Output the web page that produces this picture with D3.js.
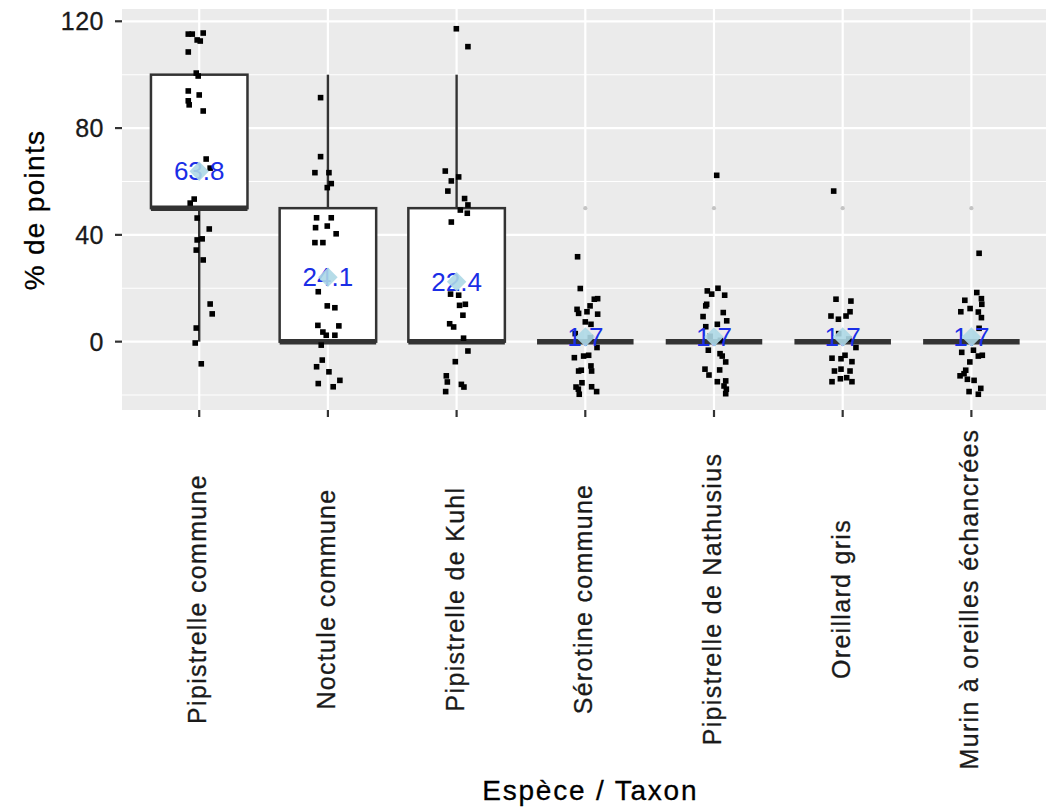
<!DOCTYPE html>
<html>
<head>
<meta charset="utf-8">
<script src="https://cdn.jsdelivr.net/npm/d3@7/dist/d3.min.js"></script>
<style>
  html, body { margin: 0; padding: 0; background: #ffffff; }
  svg { display: block; }
  text { font-family: "Liberation Sans", Arial, Helvetica, sans-serif; }
</style>
</head>
<body>
<svg id="chart" width="1046" height="812"></svg>
<script>
// ---------------- data ----------------
const categories = [
  "Pipistrelle commune", "Noctule commune", "Pipistrelle de Kuhl",
  "Sérotine commune", "Pipistrelle de Nathusius", "Oreillard gris",
  "Murin à oreilles échancrées"
];
const q1Values        = [50, 0, 0, 0, 0, 0, 0];
const medianValues    = [50, 0, 0, 0, 0, 0, 0];
const q3Values        = [100, 50, 50, 0, 0, 0, 0];
const whiskerLow      = [0, 0, 0, 0, 0, 0, 0];
const whiskerHigh     = [100, 100, 100, 0, 0, 0, 0];
const outlierValues   = [[], [], [], [50], [50], [50], [50]];
const meanValues      = [63.8, 24.1, 22.4, 1.7, 1.7, 1.7, 1.7];
const meanLabels      = ["63.8", "24.1", "22.4", "1.7", "1.7", "1.7", "1.7"];

// jittered observations (y as displayed) and their horizontal jitter (fraction of category step)
const pointValues = [
  [115.2,115.2,115.6,113.0,112.6,108.5,100.6,99.5,93.9,92.4,90.2,88.7,86.4,68.4,65.0,53.4,51.9,46.3,42.2,38.5,38.1,34.3,30.6,14.1,10.4,5.1,-0.5,-8.3],
  [91.4,69.3,63.3,63.3,59.2,57.7,46.4,46.4,42.7,43.3,40.4,37.1,37.1,18.7,13.4,12.7,6.1,5.9,3.6,2.4,2.4,-1.3,-6.9,-9.4,-11.3,-15.7,-16.9,-14.5],
  [117.2,110.5,63.9,61.7,60.2,56.4,53.6,51.2,49.3,48.1,44.8,17.8,17.4,13.6,14.0,9.9,6.7,5.5,1.3,-3.5,-7.5,-12.8,-15.1,-18.7,-16.0,-17.0],
  [31.8,19.9,15.9,16.1,13.4,12.1,10.6,11.2,10.3,7.4,6.5,3.0,1.5,-2.2,-5.4,-5.1,-6.0,-9.1,-11.0,-11.0,-10.7,-15.4,-17.0,-17.8,-16.9,-18.7,-19.7],
  [62.3,19.0,17.8,20.0,17.4,13.4,14.0,9.4,10.9,7.8,6.5,5.6,2.0,0.5,-3.2,-4.5,-5.4,-7.6,-10.3,-12.5,-10.6,-15.0,-14.7,-16.6,-17.8,-19.5],
  [56.4,15.9,15.2,9.6,8.4,9.6,11.2,3.0,1.0,-2.2,-5.1,-6.4,-6.2,-7.5,-11.0,-10.3,-11.0,-15.0,-13.9,-13.5,-15.0],
  [33.1,18.4,16.1,14.0,15.5,12.4,11.2,11.1,9.0,5.0,-4.0,-3.2,-5.4,-5.1,-7.6,-10.7,-12.0,-12.8,-14.1,-14.5,-18.7,-17.5,-19.7]
];
const pointJitter = [
  [-0.085,-0.054,0.031,-0.016,0.008,-0.085,-0.023,-0.008,-0.085,0,-0.085,-0.078,0.031,0.054,0.085,-0.039,-0.070,-0.016,0.078,0.023,-0.016,-0.023,0.031,0.085,0.101,-0.023,-0.031,0.016],
  [-0.057,-0.057,-0.101,0.008,0.026,-0.005,-0.088,0.026,-0.096,-0.005,0.064,-0.101,-0.039,-0.075,-0.005,0.054,-0.078,0.085,-0.039,-0.013,0.054,-0.052,-0.044,-0.088,0.008,-0.075,0.041,0.093],
  [-0.002,0.088,-0.088,0.016,-0.041,-0.068,0.062,0.088,0.029,0.083,-0.041,-0.047,0.016,0.023,0.068,0.049,-0.054,-0.023,0.054,0.088,-0.010,-0.080,-0.072,-0.085,0.037,0.057],
  [-0.060,-0.039,0.070,0.096,0.037,-0.064,-0.052,0.013,0.096,0,0.044,-0.078,0.039,0.091,-0.013,0.026,-0.085,0.044,0.049,-0.052,-0.031,-0.026,-0.072,-0.054,0.049,0.088,-0.047],
  [0.021,-0.052,-0.018,0.031,0.083,-0.064,-0.057,-0.085,0.072,0.099,0.026,-0.064,-0.030,0.050,-0.044,0.047,0.064,0.091,-0.070,-0.039,0.044,0.026,0.091,0.078,0.096,0.091],
  [-0.070,-0.052,0.064,-0.091,-0.033,0.026,0.057,-0.031,0.047,0.103,0.018,-0.013,-0.083,0.072,-0.064,-0.013,0.057,-0.083,-0.018,0.031,0.072],
  [0.060,0.042,0.078,0.081,-0.051,-0.010,-0.082,0.054,0.078,0.060,-0.075,0.016,0.054,0.085,-0.012,-0.044,-0.057,-0.088,-0.031,0.021,-0.018,0.073,0.054]
];
const yTicks = [0, 40, 80, 120];
const yMinorTicks = [-20, 20, 60, 100];
const xTitle = "Espèce / Taxon";
const yTitle = "% de points";

// ---------------- layout ----------------
const panel = { left: 122, right: 1048.6, top: 9, bottom: 410 };
const svg = d3.select("#chart");

const x = d3.scaleLinear().domain([0.4, categories.length + 0.6]).range([panel.left, panel.right]);
const y = d3.scaleLinear().domain([-25.6, 124.6]).range([panel.bottom, panel.top]);
const step = x(2) - x(1);
const boxW = step * 0.75;
const ink = "#1a1a1a";

// panel background
svg.append("rect")
  .attr("x", panel.left).attr("y", panel.top)
  .attr("width", panel.right - panel.left).attr("height", panel.bottom - panel.top)
  .attr("fill", "#EBEBEB");

// grid
const grid = svg.append("g");
grid.selectAll("line.minor").data(yMinorTicks).enter().append("line")
  .attr("x1", panel.left).attr("x2", panel.right)
  .attr("y1", d => y(d)).attr("y2", d => y(d))
  .attr("stroke", "#ffffff").attr("stroke-width", 1.1);
grid.selectAll("line.major").data(yTicks).enter().append("line")
  .attr("x1", panel.left).attr("x2", panel.right)
  .attr("y1", d => y(d)).attr("y2", d => y(d))
  .attr("stroke", "#ffffff").attr("stroke-width", 2.2);
grid.selectAll("line.vx").data(categories).enter().append("line")
  .attr("x1", (d, i) => x(i + 1)).attr("x2", (d, i) => x(i + 1))
  .attr("y1", panel.top).attr("y2", panel.bottom)
  .attr("stroke", "#ffffff").attr("stroke-width", 2.2);

// boxplots
const boxes = svg.append("g");
categories.forEach((c, i) => {
  const cx = x(i + 1);
  const g = boxes.append("g");
  g.append("line").attr("x1", cx).attr("x2", cx)
    .attr("y1", y(q3Values[i])).attr("y2", y(whiskerHigh[i]))
    .attr("stroke", "#333333").attr("stroke-width", 2.4);
  g.append("line").attr("x1", cx).attr("x2", cx)
    .attr("y1", y(q1Values[i])).attr("y2", y(whiskerLow[i]))
    .attr("stroke", "#333333").attr("stroke-width", 2.4);
  g.append("rect")
    .attr("x", cx - boxW / 2).attr("y", y(q3Values[i]))
    .attr("width", boxW).attr("height", Math.max(0, y(q1Values[i]) - y(q3Values[i])))
    .attr("fill", "#ffffff").attr("stroke", "#333333").attr("stroke-width", 2.5);
  g.append("line")
    .attr("x1", cx - boxW / 2).attr("x2", cx + boxW / 2)
    .attr("y1", y(medianValues[i])).attr("y2", y(medianValues[i]))
    .attr("stroke", "#333333").attr("stroke-width", 5.5);
  g.selectAll("circle").data(outlierValues[i]).enter().append("circle")
    .attr("cx", cx).attr("cy", d => y(d)).attr("r", 2.1)
    .attr("fill", "#c4c4c4");
});

// jittered points
const pts = svg.append("g");
categories.forEach((c, i) => {
  const data = pointValues[i].map((v, k) => ({ v, j: pointJitter[i][k] }));
  pts.selectAll(null).data(data).enter().append("rect")
    .attr("x", d => x(i + 1 + d.j) - 2.8)
    .attr("y", d => y(d.v) - 2.8)
    .attr("width", 5.6).attr("height", 5.6)
    .attr("fill", "#000000");
});

// mean labels and diamonds
const means = svg.append("g");
categories.forEach((c, i) => {
  const cx = x(i + 1), cy = y(meanValues[i]);
  means.append("text")
    .attr("x", cx).attr("y", cy)
    .attr("text-anchor", "middle").attr("dominant-baseline", "central")
    .attr("font-size", 26).attr("fill", "#1a2ee6")
    .text(meanLabels[i]);
  means.append("path")
    .attr("d", d3.symbol().type(d3.symbolSquare).size(190)())
    .attr("transform", `translate(${cx},${cy}) rotate(45)`)
    .attr("fill", "#ADD8E6").attr("opacity", 0.9);
});

// y axis
const yAxisG = svg.append("g");
yAxisG.selectAll("line").data(yTicks).enter().append("line")
  .attr("x1", panel.left - 7).attr("x2", panel.left)
  .attr("y1", d => y(d)).attr("y2", d => y(d))
  .attr("stroke", "#333333").attr("stroke-width", 2.2);
yAxisG.selectAll("text").data(yTicks).enter().append("text")
  .attr("x", panel.left - 18).attr("y", d => y(d))
  .attr("dy", "0.36em")
  .attr("text-anchor", "end")
  .attr("font-size", 25).attr("fill", ink)
  .attr("stroke", ink).attr("stroke-width", 0.3)
  .attr("letter-spacing", 0.5)
  .text(d => d);

// x axis
const xAxisG = svg.append("g");
xAxisG.selectAll("line").data(categories).enter().append("line")
  .attr("x1", (d, i) => x(i + 1)).attr("x2", (d, i) => x(i + 1))
  .attr("y1", panel.bottom).attr("y2", panel.bottom + 7)
  .attr("stroke", "#333333").attr("stroke-width", 2.2);
xAxisG.selectAll("text").data(categories).enter().append("text")
  .attr("transform", (d, i) => `translate(${x(i + 1) - 2},599) rotate(-90)`)
  .attr("text-anchor", "middle").attr("dominant-baseline", "central")
  .attr("font-size", 25).attr("fill", ink)
  .attr("stroke", ink).attr("stroke-width", 0.3)
  .attr("letter-spacing", 1.3)
  .text(d => d);

// axis titles
svg.append("text")
  .attr("x", (panel.left + panel.right) / 2 + 5).attr("y", 800)
  .attr("text-anchor", "middle")
  .attr("font-size", 28).attr("fill", "#000000")
  .attr("stroke", "#000000").attr("stroke-width", 0.3)
  .attr("letter-spacing", 1.8)
  .text(xTitle);
svg.append("text")
  .attr("transform", `translate(34,210) rotate(-90)`)
  .attr("text-anchor", "middle").attr("dominant-baseline", "central")
  .attr("font-size", 28).attr("fill", "#000000")
  .attr("stroke", "#000000").attr("stroke-width", 0.3)
  .attr("letter-spacing", 1.3)
  .text(yTitle);
</script>
</body>
</html>
